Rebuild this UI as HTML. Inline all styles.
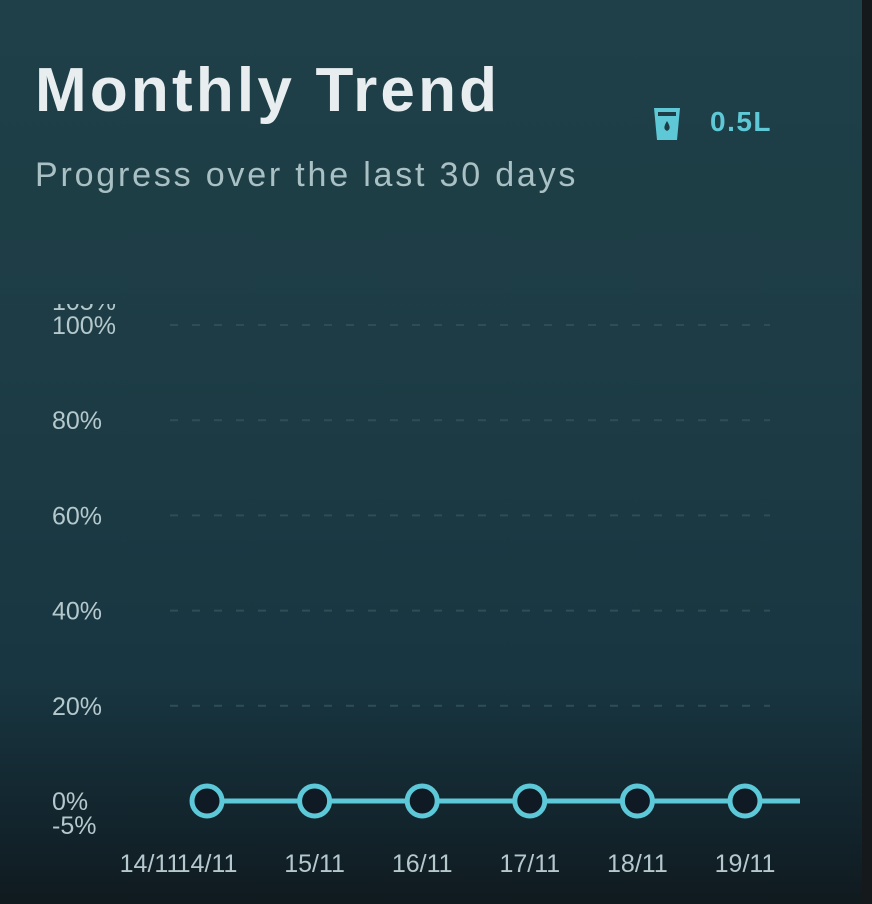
<!DOCTYPE html>
<html><head><meta charset="utf-8"><style>
html,body{margin:0;padding:0;width:872px;height:904px;overflow:hidden;background:#15191c}
#card{position:absolute;left:0;top:0;width:862px;height:904px;background:linear-gradient(180deg,#1f4048 0%,#1d3c45 40%,#183641 75%,#12232b 92%,#101a1f 100%);font-family:"Liberation Sans",sans-serif}
#title{position:absolute;left:35px;top:55px;font-size:62px;font-weight:bold;color:#e8eef0;letter-spacing:3.2px}
#sub{position:absolute;left:35px;top:156px;font-size:34px;color:#a9c0c4;letter-spacing:2.8px}
#badge{position:absolute;left:652px;top:106px;font-size:28px;font-weight:bold;color:#5fc8d6;letter-spacing:1.5px}
svg{position:absolute;left:0;top:0}
</style></head><body>
<div id="card">
<div id="title">Monthly Trend</div>
<div id="sub">Progress over the last 30 days</div>
<div id="badge">
<svg width="30" height="36" viewBox="0 0 30 36" style="position:absolute;left:0;top:0"><path d="M2 2 H28 L25 34 H5 Z" fill="#5fc8d6"/><rect x="6" y="6" width="18" height="4" fill="#1d3c45"/><path d="M15 15 C12 20 11 23 15 25 C19 23 18 20 15 15Z" fill="#1d3c45"/></svg>
<span style="position:absolute;left:58px;top:0;">0.5L</span></div>
<svg id="chart" width="862" height="904"></svg>
</div>
<script>
const categories=["14/11","15/11","16/11","17/11","18/11","19/11"];
const values=[0,0,0,0,0,0];
const yTicks=[0,20,40,60,80,100];
const yTickLabels=["0%","20%","40%","60%","80%","100%"];
const NS="http://www.w3.org/2000/svg";
const svg=document.getElementById('chart');
const y=v=>801-v*4.76;
const x=i=>207+i*107.6;
function mk(t,a,p){const e=document.createElementNS(NS,t);for(const k in a)e.setAttribute(k,a[k]);(p||svg).appendChild(e);return e;}
const cp=mk('clipPath',{id:'topclip'});mk('rect',{x:0,y:304,width:300,height:600},cp);
yTicks.forEach((v,i)=>{
 if(v>0){const g=mk('line',{x1:170,x2:770,y1:y(v),y2:y(v),stroke:'#2e4e56','stroke-width':2,'stroke-dasharray':'8 14'});
 
 }
 const t=mk('text',{x:52,y:y(v)+9,fill:'#b5c8cc','font-size':25,'font-family':'Liberation Sans, sans-serif'});
 t.textContent=yTickLabels[i];
 
 
});
[["105%",y(105)+9,true],["-5%",y(-5)+9,false]].forEach(([s,yy,c])=>{const t=mk('text',{x:52,y:yy,fill:'#b5c8cc','font-size':25,'font-family':'Liberation Sans, sans-serif'});t.textContent=s;
 if(c)t.setAttribute('clip-path','url(#topclip)');
 
 });
let d='';values.forEach((v,i)=>{d+=(i?'L':'M')+x(i)+' '+y(v);});d+='L800 '+y(values[values.length-1]);
const ln=mk('path',{d:d,stroke:'#5cc8d8','stroke-width':5,fill:'none'});


values.forEach((v,i)=>{const c=mk('circle',{cx:x(i),cy:y(v),r:15,fill:'#0f1a24',stroke:'#5cc8d8','stroke-width':5});
 
 });
categories.forEach((c,i)=>{const t=mk('text',{x:x(i),y:872,fill:'#b5c8cc','font-size':25,'text-anchor':'middle','font-family':'Liberation Sans, sans-serif'});t.textContent=c;
 
 });
const t0=mk('text',{x:150,y:872,fill:'#b5c8cc','font-size':25,'text-anchor':'middle','font-family':'Liberation Sans, sans-serif'});t0.textContent=categories[0];


</script>
</body></html>
